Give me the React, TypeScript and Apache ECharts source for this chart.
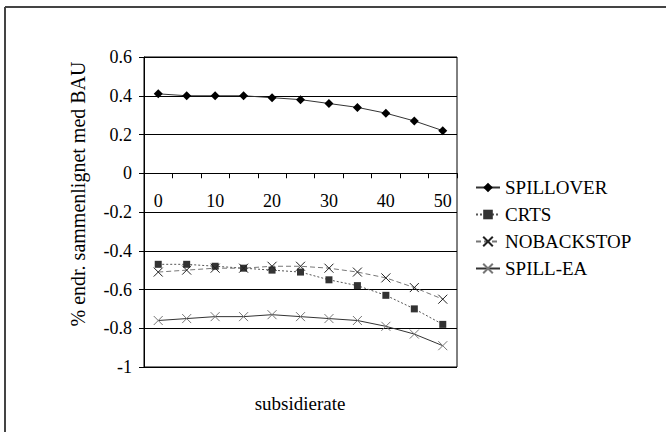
import React, { useEffect, useRef } from "react";
import * as echarts from "echarts";

const categories = ["0", "5", "10", "15", "20", "25", "30", "35", "40", "45", "50"];
const spillover = [0.41, 0.40, 0.40, 0.40, 0.39, 0.38, 0.36, 0.34, 0.31, 0.27, 0.22];
const crts = [-0.47, -0.47, -0.48, -0.49, -0.50, -0.51, -0.55, -0.58, -0.63, -0.70, -0.78];
const nobackstop = [-0.51, -0.50, -0.49, -0.49, -0.48, -0.48, -0.49, -0.51, -0.54, -0.59, -0.65];
const spillEa = [-0.76, -0.75, -0.74, -0.74, -0.73, -0.74, -0.75, -0.76, -0.79, -0.83, -0.89];

const yTitle = "% endr. sammenlignet med BAU";
const xTitle = "subsidierate";

const FONT = "Liberation Serif";
const CROSS = "path://M0,0L10,10M10,0L0,10";

const Y_MIN = -1;
const Y_MAX = 0.6;
const GRID_TOP = 57;
const GRID_H = 310;

export default function App() {
  const ref = useRef<HTMLDivElement>(null);
  useEffect(() => {
    if (!ref.current) return;
    const chart = echarts.init(ref.current, null, { renderer: "svg" });
    const zeroOffset = -(GRID_H * (0 - Y_MIN)) / (Y_MAX - Y_MIN);
    chart.setOption({
      animation: false,
      backgroundColor: "#ffffff",
      grid: {
        left: 144,
        top: GRID_TOP,
        width: 313,
        height: GRID_H,
        show: true,
        borderColor: "#000",
        borderWidth: 1,
        containLabel: false,
      },
      legend: {
        orient: "vertical",
        left: 470,
        top: 173,
        itemWidth: 24,
        itemHeight: 12,
        itemGap: 8,
        textStyle: { fontFamily: FONT, fontSize: 19, color: "#000", lineHeight: 18 },
        data: ["SPILLOVER", "CRTS", "NOBACKSTOP", "SPILL-EA"],
      },
      xAxis: {
        type: "category",
        data: categories,
        boundaryGap: true,
        offset: zeroOffset,
        axisLine: { onZero: false, lineStyle: { color: "#000", width: 1 } },
        axisTick: { show: true, interval: 0, length: 5, lineStyle: { color: "#000" } },
        axisLabel: {
          interval: 1,
          margin: 19,
          fontFamily: FONT,
          fontSize: 18,
          color: "#000",
        },
        splitLine: { show: false },
      },
      yAxis: {
        type: "value",
        min: Y_MIN,
        max: Y_MAX,
        interval: 0.2,
        axisLine: { show: true, lineStyle: { color: "#000", width: 1 } },
        axisTick: { show: true, length: 5, lineStyle: { color: "#000" } },
        axisLabel: {
          margin: 12,
          fontFamily: FONT,
          fontSize: 18,
          color: "#000",
          formatter: (v: number) => String(Math.round(v * 10) / 10),
        },
        splitLine: { show: true, lineStyle: { color: "#000", width: 1 } },
      },
      series: [
        {
          name: "SPILLOVER",
          type: "line",
          data: spillover,
          symbol: "diamond",
          symbolSize: 9,
          itemStyle: { color: "#000" },
          lineStyle: { color: "#333", width: 1 },
        },
        {
          name: "CRTS",
          type: "line",
          data: crts,
          symbol: "rect",
          symbolSize: 7,
          itemStyle: { color: "#333" },
          lineStyle: { color: "#555", width: 1, type: [2, 2] },
        },
        {
          name: "NOBACKSTOP",
          type: "line",
          data: nobackstop,
          symbol: CROSS,
          symbolSize: 9,
          itemStyle: { color: "transparent", borderColor: "#222", borderWidth: 1 },
          lineStyle: { color: "#777", width: 1, type: [5, 3] },
        },
        {
          name: "SPILL-EA",
          type: "line",
          data: spillEa,
          symbol: CROSS,
          symbolSize: 9,
          itemStyle: { color: "transparent", borderColor: "#777", borderWidth: 1 },
          lineStyle: { color: "#333", width: 1 },
        },
      ],
      graphic: [
        {
          type: "line",
          shape: { x1: 5, y1: 7, x2: 666, y2: 7 },
          style: { stroke: "#444", lineWidth: 2 },
        },
        {
          type: "line",
          shape: { x1: 5, y1: 7, x2: 5, y2: 432 },
          style: { stroke: "#444", lineWidth: 2 },
        },
        {
          type: "text",
          x: 78,
          y: 194,
          rotation: Math.PI / 2,
          style: {
            text: yTitle,
            fontFamily: FONT,
            fontSize: 20,
            fill: "#000",
            align: "center",
            verticalAlign: "middle",
          },
        },
        {
          type: "text",
          x: 300,
          y: 403,
          style: {
            text: xTitle,
            fontFamily: FONT,
            fontSize: 19,
            fill: "#000",
            align: "center",
            verticalAlign: "middle",
          },
        },
      ],
    });
    return () => chart.dispose();
  }, []);
  return (
    <div
      ref={ref}
      style={{ position: "fixed", left: 0, top: 0, width: 666, height: 432, background: "#fff" }}
    />
  );
}
